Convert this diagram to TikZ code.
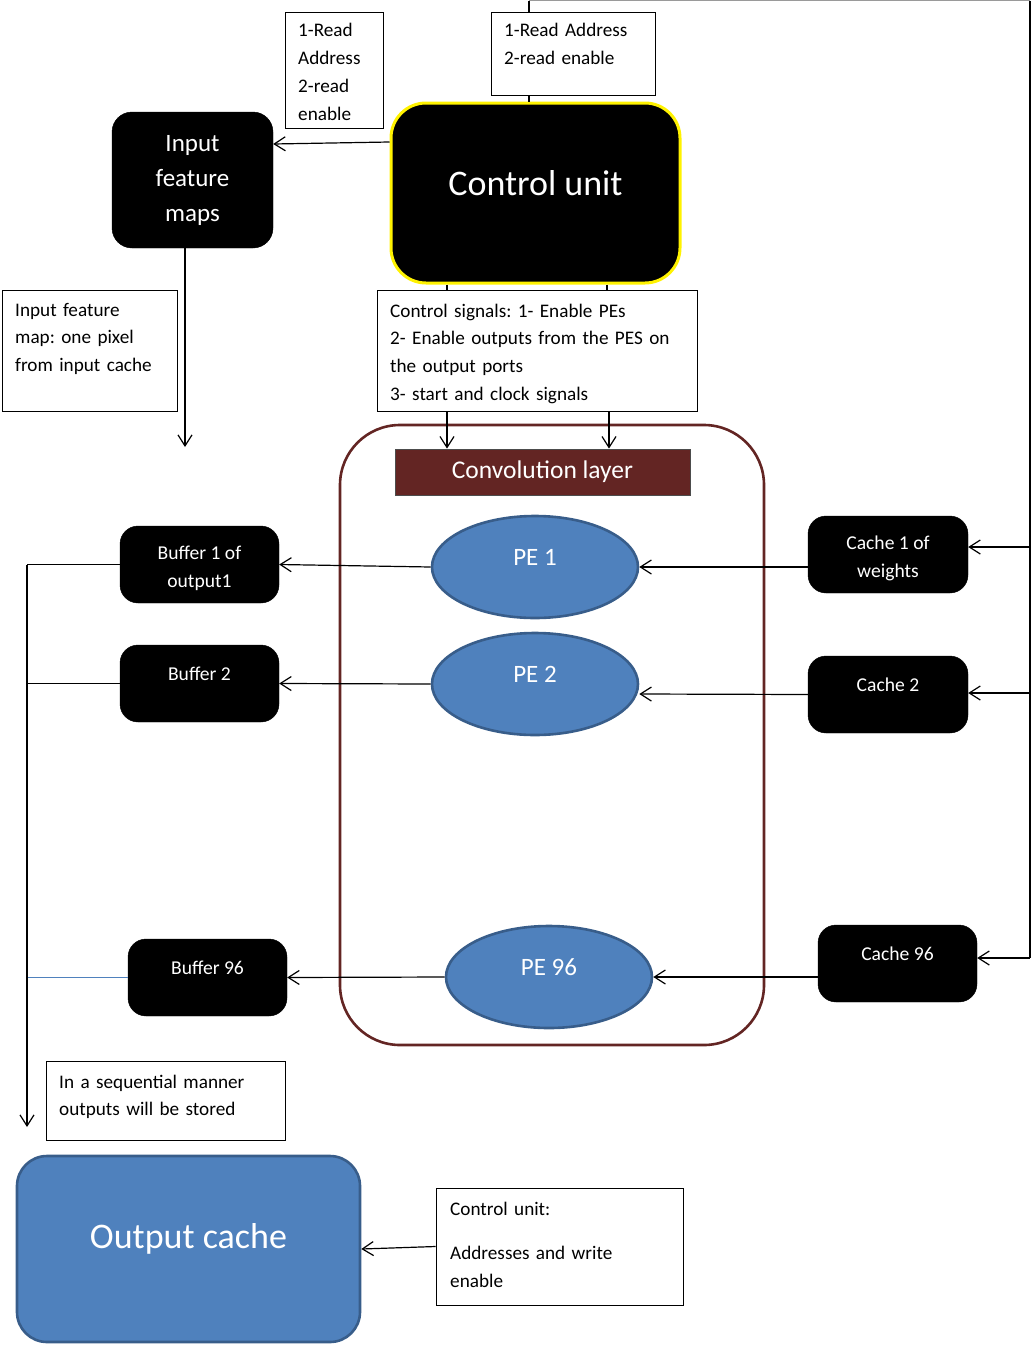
\documentclass[tikz,border=0pt]{standalone}
\usepackage{fontspec}
\setmainfont{Carlito}
\usetikzlibrary{arrows.meta,shapes.geometric}
\definecolor{peblue}{HTML}{4F81BD}
\definecolor{peedge}{HTML}{385D8A}
\definecolor{convred}{HTML}{632523}
\definecolor{topgray}{HTML}{9A9A9A}
% raise text inside a box without changing the box's size
\newcommand\liftby[2]{\raisebox{#1}[\height][\depth]{#2}}
\frenchspacing
\begin{document}
\begin{tikzpicture}[x=1pt,y=-1pt,
  wire/.style={line width=1.2pt, black},
  arr/.style={wire, -{Straight Barb[length=11pt,width=14pt,line width=1.2pt]}},
  notebox/.style={draw=black, line width=0.9pt, fill=white, inner sep=0pt},
  notetext/.style={anchor=base west, inner sep=0pt, align=left, font=\fontsize{19.2}{27.8}\selectfont},
  blackbox/.style={fill=black, draw=black, rounded corners=18pt, text=white, align=center, inner sep=0pt},
  unitbox/.style={blackbox, minimum width=159pt, minimum height=77pt, font=\fontsize{19.6}{28}\selectfont},
  pe/.style={ellipse, fill=peblue, draw=peedge, line width=2.6pt, minimum width=206pt, minimum height=102pt,
    inner sep=0pt, text=white, font=\fontsize{25}{28}\selectfont},
]
\useasboundingbox (0,0) rectangle (1034,1346);

% convolution layer enclosure
\node[draw=convred, line width=2.6pt, rounded corners=60pt, minimum width=424pt, minimum height=620pt, inner sep=0pt] (region) at (552,735) {};

% control unit and its feeds
\node[blackbox, draw=yellow, line width=3pt, rounded corners=35pt, minimum width=289pt, minimum height=180pt,
  font=\fontsize{36}{42}\selectfont] (cu) at (535.5,193) {\liftby{10pt}{Control unit}};

\coordinate (tl) at (529,0.6);
\coordinate (tr) at (1030,0.6);
\coordinate (rb) at (1030,958);
\coordinate (r1) at (1030,547);
\coordinate (r2) at (1030,693);
\draw[wire] ([xshift=-6.5pt]cu.north) -- (tl);
\draw[wire, draw=topgray] (tl) -- (tr);
\draw[wire] (tr) -- (rb);

\node[notebox, minimum width=98pt, minimum height=116pt] (ra1) at (334,70) {};
\node[notetext, text width=84pt] (ra1t) at (298,37) {1-Read\\Address\\2-read\\enable};
\node[notebox, minimum width=164pt, minimum height=83pt] (ra2) at (573,53.5) {};
\node[notetext, text width=150pt] (ra2t) at (504,37) {1-Read Address\\2-read enable};

\node[blackbox, rounded corners=20pt, minimum width=161pt, minimum height=136pt,
  font=\fontsize{25}{35}\selectfont] (ifm) at (192.5,180) {Input\\feature\\maps};

\node[notebox, minimum width=175pt, minimum height=121pt] (ifmn) at (89.5,350.5) {};
\node[notetext, text width=160pt] (ifmnt) at (15,316) {Input feature\\map: one pixel\\from input cache};

\node[notebox, minimum width=320pt, minimum height=121pt] (cs) at (537,350.5) {};
\node[notetext, text width=305pt] (cst) at (390,317) {Control signals: 1- Enable PEs\\2- Enable outputs from the PES on\\the output ports\\3- start and clock signals};

% convolution layer and processing elements
\node[fill=convred, draw=black!70, line width=0.8pt, minimum width=295pt, minimum height=46pt, inner sep=0pt,
  text=white, font=\fontsize{25.5}{28}\selectfont] (conv) at (542.5,472) {Convolution layer};

\node[pe] (pe1) at (535,567) {\liftby{10pt}{PE 1}};
\node[pe] (pe2) at (535,684) {\liftby{10pt}{PE 2}};
\node[pe] (pe96) at (549,977) {\liftby{10pt}{PE 96}};

% output buffers
\node[unitbox] (buf1) at (199.5,564.5) {\liftby{-3pt}{\begin{tabular}{@{}c@{}}Buffer 1 of\\output1\end{tabular}}};
\node[unitbox] (buf2) at (199.5,683.5) {\liftby{10pt}{Buffer 2}};
\node[unitbox] (buf96) at (207.5,977.5) {\liftby{10pt}{Buffer 96}};

% weight caches
\node[unitbox, minimum width=160pt] (cache1) at (888,554.5) {\liftby{-3pt}{\begin{tabular}{@{}c@{}}Cache 1 of\\weights\end{tabular}}};
\node[unitbox, minimum width=160pt] (cache2) at (888,694.5) {\liftby{10pt}{Cache 2}};
\node[unitbox] (cache96) at (897.5,963.5) {\liftby{10pt}{Cache 96}};

% output side
\node[notebox, minimum width=239pt, minimum height=79pt] (seq) at (165.5,1100.5) {};
\node[notetext, text width=225pt] (seqt) at (59,1088) {In a sequential manner\\outputs will be stored};

\node[fill=peblue, draw=peedge, line width=2.6pt, rounded corners=30pt, minimum width=343pt, minimum height=186pt,
  inner sep=0pt, text=white, font=\fontsize{36}{42}\selectfont] (oc) at (188.5,1249) {\liftby{10pt}{Output cache}};

\node[notebox, minimum width=247pt, minimum height=117pt] (cun) at (559.5,1246.5) {};
\node[notetext, text width=230pt] (cunt) at (450,1215) {Control unit:\\[17pt]Addresses and write\\enable};

% connectors
\coordinate (ifmdown) at (185,447);
\coordinate (bus) at (27,1127);

\draw[arr] ([yshift=51pt]cu.west) -- ([yshift=36pt]ifm.east);
\draw[arr] (ifm.south -| ifmdown) -- (ifmdown);

\draw[wire] ([xshift=-88.5pt]cu.south) -- ([xshift=-88.5pt]cu.south |- cs.north);
\draw[wire] ([xshift=71.5pt]cu.south) -- ([xshift=71.5pt]cu.south |- cs.north);
\draw[arr] ([xshift=-90pt]cs.south) -- ([xshift=-90pt]cs.south |- conv.north);
\draw[arr] ([xshift=72pt]cs.south) -- ([xshift=72pt]cs.south |- conv.north);

\draw[arr] (r1) -- (cache1.east |- r1);
\draw[arr] (r2) -- (cache2.east |- r2);
\draw[arr] (rb) -- (cache96.east |- rb);

\draw[arr] (cache1.west |- pe1.east) -- (pe1.east);
\draw[arr] (cache2.west) -- ([yshift=-10pt]pe2.east);
\draw[arr] (cache96.west |- pe96.east) -- (pe96.east);

\draw[arr] (pe1.west) -- (buf1.east);
\draw[arr] (pe2.west) -- (buf2.east);
\draw[arr] (pe96.west) -- (buf96.east);

\draw[wire] (buf1.west) -- (buf1.west -| bus);
\draw[wire] (buf2.west) -- (buf2.west -| bus);
\draw[line width=0.8pt, peblue] (buf96.west) -- (buf96.west -| bus);
\draw[arr] (buf1.west -| bus) -- (bus);

\draw[arr] (cun.west) -- (oc.east);
\end{tikzpicture}
\end{document}
